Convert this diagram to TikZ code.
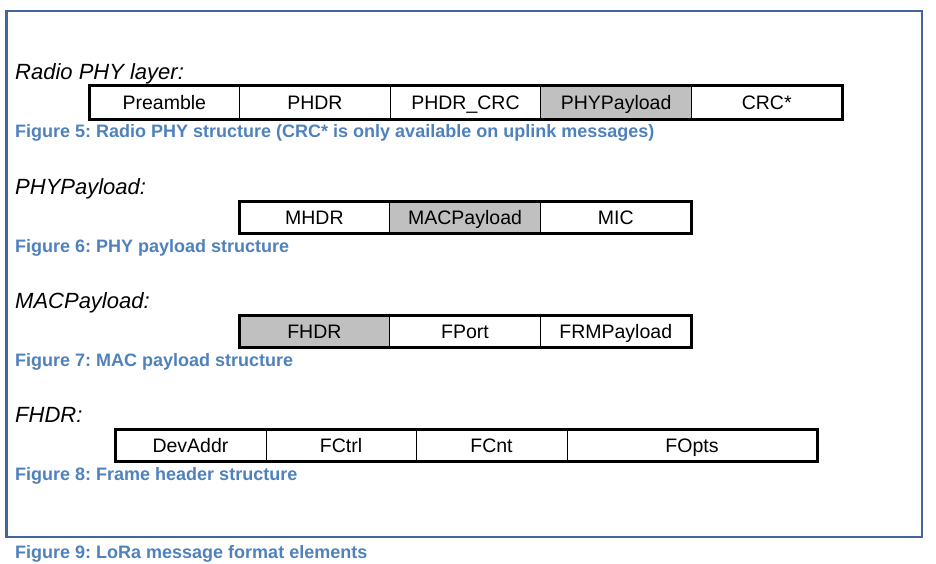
\documentclass[tikz,border=0pt]{standalone}
\usepackage{fontspec}
\setmainfont{Liberation Sans}
\frenchspacing
\definecolor{framecol}{HTML}{41659C}
\definecolor{capcol}{HTML}{4F81BD}
\definecolor{cellgray}{HTML}{C0C0C0}
\begin{document}
\begin{tikzpicture}[x=1pt,y=-1pt,
  cell/.style={draw=black,line width=1pt,rectangle,anchor=north west,outer sep=0pt,
    minimum height=34pt,inner sep=0pt,text height=14pt,text depth=0pt,
    font=\fontsize{19.5}{20}\selectfont},
  shaded/.style={cell,fill=cellgray},
  rowframe/.style={draw=black,line width=3pt},
  layerlabel/.style={anchor=base west,inner sep=0pt,font=\fontsize{22}{24}\selectfont\itshape},
  caption/.style={anchor=base west,inner sep=0pt,text=capcol,font=\fontsize{18}{20}\selectfont\bfseries}]
\useasboundingbox (0,0) rectangle (936,564);
% outer frame
\draw[framecol,line width=2.6pt] (6.5,11) rectangle (922,537);

% Radio PHY layer
\node[layerlabel] (l1) at (15,80) {Radio PHY layer:};
\node[cell,minimum width=150.6pt] (p1) at (89,86) {Preamble};
\node[cell,minimum width=150.6pt] (p2) at (p1.north east) {PHDR};
\node[cell,minimum width=150.6pt] (p3) at (p2.north east) {PHDR\_CRC};
\node[shaded,minimum width=150.6pt] (p4) at (p3.north east) {PHYPayload};
\node[cell,minimum width=150.6pt] (p5) at (p4.north east) {CRC*};
\draw[rowframe] (p1.north west) rectangle (p5.south east);
\node[caption] (c5) at (15,138) {Figure 5: Radio PHY structure (CRC* is only available on uplink messages)};

% PHYPayload
\node[layerlabel] (l2) at (15,194) {PHYPayload:};
\node[cell,minimum width=150.7pt,minimum height=32pt] (m1) at (239,201) {MHDR};
\node[shaded,minimum width=150.7pt,minimum height=32pt] (m2) at (m1.north east) {MACPayload};
\node[cell,minimum width=150.7pt,minimum height=32pt] (m3) at (m2.north east) {MIC};
\draw[rowframe] (m1.north west) rectangle (m3.south east);
\node[caption] (c6) at (15,252) {Figure 6: PHY payload structure};

% MACPayload
\node[layerlabel] (l3) at (15,308) {MACPayload:};
\node[shaded,minimum width=150.7pt,minimum height=32pt] (a1) at (239,315) {FHDR};
\node[cell,minimum width=150.7pt,minimum height=32pt] (a2) at (a1.north east) {FPort};
\node[cell,minimum width=150.7pt,minimum height=32pt] (a3) at (a2.north east) {FRMPayload};
\draw[rowframe] (a1.north west) rectangle (a3.south east);
\node[caption] (c7) at (15,366) {Figure 7: MAC payload structure};

% FHDR
\node[layerlabel] (l4) at (15,422) {FHDR:};
\node[cell,minimum width=151pt,minimum height=32pt] (f1) at (115,429) {DevAddr};
\node[cell,minimum width=150pt,minimum height=32pt] (f2) at (f1.north east) {FCtrl};
\node[cell,minimum width=151pt,minimum height=32pt] (f3) at (f2.north east) {FCnt};
\node[cell,minimum width=250pt,minimum height=32pt] (f4) at (f3.north east) {FOpts};
\draw[rowframe] (f1.north west) rectangle (f4.south east);
\node[caption] (c8) at (15,480) {Figure 8: Frame header structure};

% overall caption
\node[caption] (c9) at (15,558) {Figure 9: LoRa message format elements};
\end{tikzpicture}
\end{document}
